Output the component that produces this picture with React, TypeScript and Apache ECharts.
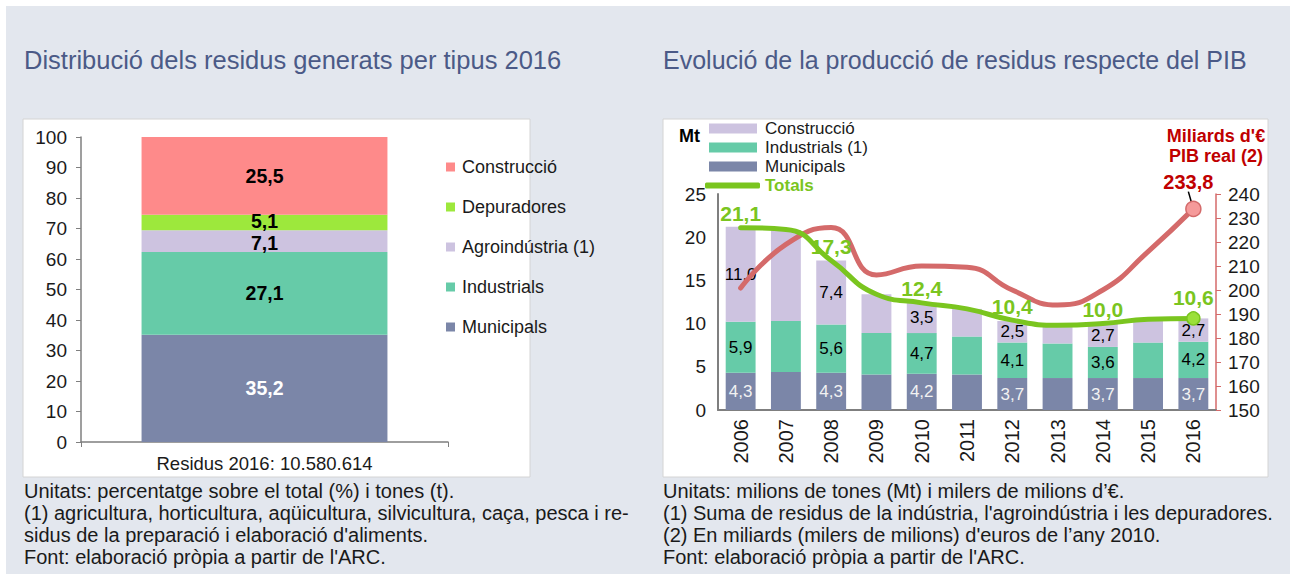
import React, { useEffect, useRef } from "react";
import * as echarts from "echarts";

// ---------- data: left chart ----------
const distCategory = ["Residus 2016: 10.580.614"];
const distNames = ["Municipals", "Industrials", "Agroindústria (1)", "Depuradores", "Construcció"];
const distValues = [35.2, 27.1, 7.1, 5.1, 25.5];
const distLegendOrder = ["Construcció", "Depuradores", "Agroindústria (1)", "Industrials", "Municipals"];

// ---------- data: right chart ----------
const years = ["2006", "2007", "2008", "2009", "2010", "2011", "2012", "2013", "2014", "2015", "2016"];
const municipals = [4.3, 4.4, 4.3, 4.1, 4.2, 4.1, 3.7, 3.7, 3.7, 3.7, 3.7];
const industrials = [5.9, 5.9, 5.6, 4.8, 4.7, 4.4, 4.1, 4.0, 3.6, 4.1, 4.2];
const construccio = [11.0, 10.5, 7.4, 4.5, 3.5, 3.2, 2.5, 2.1, 2.7, 2.7, 2.7];
const totals = [21.1, 20.9, 17.3, 13.4, 12.4, 11.7, 10.4, 9.8, 10.0, 10.5, 10.6];
const pibReal = [200.8, 219.0, 226.0, 206.3, 210.0, 209.5, 200.0, 193.7, 200.0, 216.0, 233.8];

const leftNotes = [
  "Unitats: percentatge sobre el total (%) i tones (t).",
  "(1) agricultura, horticultura, aqüicultura, silvicultura, caça, pesca i re-",
  "sidus de la preparació i elaboració d'aliments.",
  "Font: elaboració pròpia a partir de l'ARC.",
];
const rightNotes = [
  "Unitats: milions de tones (Mt) i milers de milions d’€.",
  "(1) Suma de residus de la indústria, l'agroindústria i les depuradores.",
  "(2) En miliards (milers de milions) d'euros de l’any 2010.",
  "Font: elaboració pròpia a partir de l'ARC.",
];

// ---------- styles ----------
const FONT = '"Liberation Sans", Arial, sans-serif';
const distColors: Record<string, string> = {
  Municipals: "#7b86a8",
  Industrials: "#66cba8",
  "Agroindústria (1)": "#cdc3e0",
  Depuradores: "#9de83c",
  Construcció: "#fe8a8a",
};
const distLabelOffset: Record<string, number[]> = {
  Depuradores: [0, -2],
  "Agroindústria (1)": [0, 2],
};
const C_MUN = "#7b86a8";
const C_IND = "#66cba8";
const C_CON = "#cdc3e0";
const C_GREEN = "#7ac51f";
const C_RED = "#d46a6a";
const TITLE_COLOR = "#4b5a87";

const fmt = (v: number) => v.toFixed(1).replace(".", ",");

function buildOption() {
  const distSeries = distNames.map((name, i) => ({
    type: "bar",
    name,
    stack: "dist",
    xAxisIndex: 0,
    yAxisIndex: 0,
    barWidth: "67%",
    data: [distValues[i]],
    itemStyle: { color: distColors[name] },
    label: {
      show: true,
      position: "inside",
      offset: distLabelOffset[name] || [0, 0],
      formatter: (p: any) => fmt(p.value),
      color: name === "Municipals" ? "#ffffff" : "#000000",
      fontFamily: FONT,
      fontWeight: "bold",
      fontSize: 19.5,
      lineHeight: 16,
    },
  }));

  const evenLabel = (color: string) => ({
    show: true,
    position: "inside",
    formatter: (p: any) => (p.dataIndex % 2 === 0 ? fmt(p.value) : ""),
    color,
    fontFamily: FONT,
    fontSize: 17,
  });

  const rightBars = [
    { name: "Municipals", data: municipals, color: C_MUN, labelColor: "#f2f2f2" },
    { name: "Industrials (1)", data: industrials, color: C_IND, labelColor: "#000" },
    { name: "Construcció", data: construccio, color: C_CON, labelColor: "#000" },
  ].map((s) => ({
    type: "bar",
    name: s.name,
    stack: "evo",
    xAxisIndex: 1,
    yAxisIndex: 1,
    barWidth: "66%",
    data: s.data,
    itemStyle: { color: s.color },
    label: evenLabel(s.labelColor),
  }));

  const last = totals.length - 1;
  const totalsData = totals.map((v, i) =>
    i === last
      ? {
          value: v,
          symbolSize: 13,
          itemStyle: { color: "#9be03a", borderColor: C_GREEN, borderWidth: 1.5 },
        }
      : v
  );
  const pibData = pibReal.map((v, i) =>
    i === last
      ? {
          value: v,
          symbolSize: 15,
          itemStyle: { color: "#f59a9a", borderColor: C_RED, borderWidth: 1.5 },
          label: {
            show: true,
            position: "top",
            distance: 6,
            formatter: (p: any) => fmt(p.value),
            color: "#c00000",
            fontFamily: FONT,
            fontWeight: "bold",
            fontSize: 20,
          },
        }
      : v
  );

  const axisLabelStyle = { color: "#1a1a1a", fontSize: 19, fontFamily: FONT };

  return {
    animation: false,
    backgroundColor: "#ffffff",
    textStyle: { fontFamily: FONT },
    graphic: [
      { type: "rect", z: -20, shape: { x: 6, y: 6, width: 1284, height: 568 }, style: { fill: "#e3e7ee" } },
      { type: "rect", z: -19, shape: { x: 23, y: 119, width: 507, height: 358 }, style: { fill: "#ffffff", stroke: "#d4d4d4", lineWidth: 1 } },
      { type: "rect", z: -19, shape: { x: 663, y: 119, width: 605, height: 358 }, style: { fill: "#ffffff", stroke: "#d4d4d4", lineWidth: 1 } },
      {
        type: "text", x: 24, y: 60,
        style: { text: "Distribució dels residus generats per tipus 2016", fill: TITLE_COLOR, font: `25.5px ${FONT}`, textVerticalAlign: "middle" },
      },
      {
        type: "text", x: 663, y: 60,
        style: { text: "Evolució de la producció de residus respecte del PIB", fill: TITLE_COLOR, font: `25px ${FONT}`, textVerticalAlign: "middle" },
      },
      {
        type: "text", x: 24, y: 480,
        style: { text: leftNotes.join("\n"), fill: "#1a1a1a", font: `20px ${FONT}`, lineHeight: 22, textVerticalAlign: "top" },
      },
      {
        type: "text", x: 663, y: 480,
        style: { text: rightNotes.join("\n"), fill: "#1a1a1a", font: `20px ${FONT}`, lineHeight: 22, textVerticalAlign: "top" },
      },
    ],
    legend: [
      {
        orient: "vertical",
        left: 446,
        top: 158,
        padding: 0,
        itemWidth: 9,
        itemHeight: 9,
        itemGap: 22,
        icon: "rect",
        selectedMode: false,
        textStyle: { fontFamily: FONT, fontSize: 18, lineHeight: 16, color: "#1a1a1a", padding: [0, 0, 0, 2] },
        data: distLegendOrder.map((n) => ({ name: n, itemStyle: { color: distColors[n] } })),
      },
      {
        orient: "vertical",
        left: 709,
        top: 120,
        padding: 0,
        itemWidth: 48,
        itemHeight: 10,
        itemGap: 2,
        icon: "rect",
        selectedMode: false,
        textStyle: { fontFamily: FONT, fontSize: 17, lineHeight: 15, color: "#1a1a1a", padding: [0, 0, 0, 3] },
        data: [
          { name: "Construcció", itemStyle: { color: C_CON } },
          { name: "Industrials (1)", itemStyle: { color: C_IND } },
          { name: "Municipals", itemStyle: { color: C_MUN } },
        ],
      },
      {
        orient: "vertical",
        left: 705,
        top: 177,
        padding: 0,
        itemWidth: 55,
        itemHeight: 6,
        icon: "roundRect",
        selectedMode: false,
        textStyle: { fontFamily: FONT, fontSize: 17, color: C_GREEN, fontWeight: "bold" },
        data: [{ name: "Totals", itemStyle: { color: C_GREEN } }],
      },
    ],
    grid: [
      { left: 81, top: 137, width: 367, height: 305 },
      { left: 718, top: 194, width: 498, height: 216 },
    ],
    xAxis: [
      {
        type: "category",
        gridIndex: 0,
        data: distCategory,
        axisLine: { lineStyle: { color: "#7f7f7f", width: 1.5 } },
        axisTick: { show: true, length: 5, lineStyle: { color: "#7f7f7f" } },
        axisLabel: { color: "#1a1a1a", fontSize: 18.5, fontFamily: FONT, margin: 12 },
      },
      {
        type: "category",
        gridIndex: 1,
        data: years,
        axisLine: { lineStyle: { color: "#7f7f7f", width: 2 } },
        axisTick: { show: false },
        axisLabel: { color: "#1a1a1a", fontSize: 20, fontFamily: FONT, rotate: 90, margin: 9 },
      },
    ],
    yAxis: [
      {
        type: "value",
        gridIndex: 0,
        min: 0,
        max: 100,
        interval: 10,
        splitLine: { show: false },
        axisLine: { show: true, lineStyle: { color: "#7f7f7f", width: 1.5 } },
        axisTick: { show: true, length: 5, lineStyle: { color: "#7f7f7f" } },
        axisLabel: { ...axisLabelStyle, margin: 14 },
      },
      {
        type: "value",
        gridIndex: 1,
        min: 0,
        max: 25,
        interval: 5,
        name: "Mt",
        nameLocation: "end",
        nameGap: 49,
        nameTextStyle: { align: "right", padding: [0, 18, 0, 0], color: "#000", fontWeight: "bold", fontSize: 18, fontFamily: FONT },
        splitLine: { show: false },
        axisLine: { show: true, lineStyle: { color: "#7f7f7f", width: 2 } },
        axisTick: { show: false },
        axisLabel: { ...axisLabelStyle, margin: 12 },
      },
      {
        type: "value",
        gridIndex: 1,
        position: "right",
        min: 150,
        max: 240,
        interval: 10,
        name: "Miliards d'€\nPIB real (2)",
        nameLocation: "end",
        nameGap: 28,
        nameTextStyle: { align: "center", color: "#c00000", fontWeight: "bold", fontSize: 18, lineHeight: 20, fontFamily: FONT },
        splitLine: { show: false },
        axisLine: { show: true, lineStyle: { color: C_RED, width: 1.5 } },
        axisTick: { show: true, length: 5, lineStyle: { color: C_RED } },
        axisLabel: { ...axisLabelStyle, margin: 12 },
      },
    ],
    series: [
      ...distSeries,
      ...rightBars,
      {
        type: "line",
        name: "Totals",
        xAxisIndex: 1,
        yAxisIndex: 1,
        smooth: 0.5,
        data: totalsData,
        symbol: "circle",
        symbolSize: 1,
        itemStyle: { color: "rgba(0,0,0,0)", borderWidth: 0 },
        lineStyle: { color: C_GREEN, width: 5, cap: "round" },
        color: C_GREEN,
        z: 5,
        label: {
          show: true,
          position: "top",
          distance: 3,
          formatter: (p: any) => (p.dataIndex % 2 === 0 ? fmt(p.value) : ""),
          color: C_GREEN,
          fontFamily: FONT,
          fontWeight: "bold",
          fontSize: 21,
        },
      },
      {
        type: "line",
        name: "PIB real",
        xAxisIndex: 1,
        yAxisIndex: 2,
        smooth: 0.5,
        data: pibData,
        symbol: "circle",
        symbolSize: 1,
        itemStyle: { color: "rgba(0,0,0,0)", borderWidth: 0 },
        lineStyle: { color: C_RED, width: 5, cap: "round" },
        z: 4,
        labelLayout: { dx: -5, dy: -3 },
        labelLine: { show: true, lineStyle: { color: "#000", width: 1.5 } },
      },
    ],
  };
}

export default function App() {
  const ref = useRef<HTMLDivElement>(null);
  useEffect(() => {
    if (!ref.current) return;
    const chart = echarts.init(ref.current, undefined, { renderer: "svg" });
    chart.setOption(buildOption() as any);
    return () => chart.dispose();
  }, []);
  return (
    <div
      ref={ref}
      style={{ position: "absolute", left: 0, top: 0, width: 1290, height: 574 }}
    />
  );
}
